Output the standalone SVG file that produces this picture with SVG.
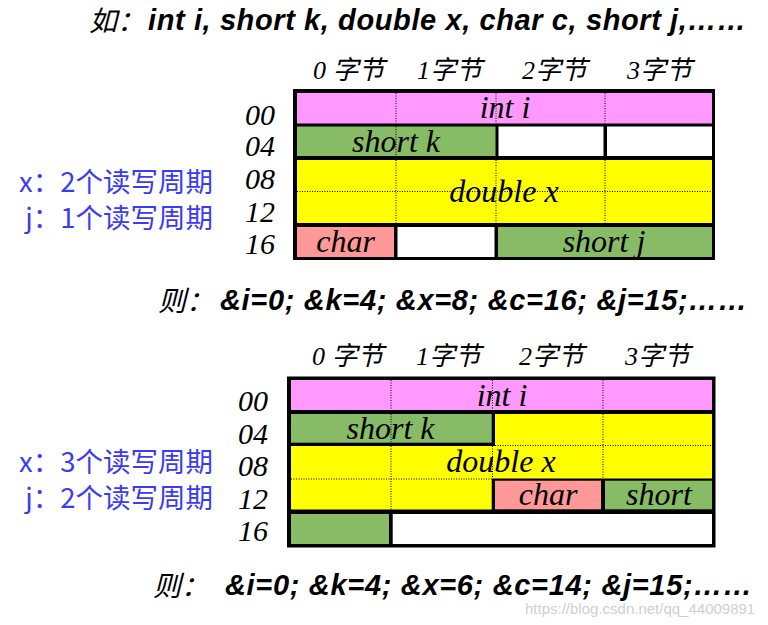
<svg xmlns="http://www.w3.org/2000/svg" width="768" height="625" viewBox="0 0 768 625">
<style>
.bg{fill:#000}
.pink{fill:#FF99FF}
.green{fill:#88BB66}
.yellow{fill:#FFFF00}
.salmon{fill:#FF9999}
.white{fill:#FFFFFF}
.dot{stroke:#000;stroke-width:1;stroke-dasharray:1 1.5;fill:none}
.cell{font-family:"Liberation Serif","Noto Sans CJK SC",serif;font-style:italic;font-size:32px;fill:#000;text-anchor:middle}
.row{font-family:"Liberation Serif",serif;font-style:italic;font-size:30px;fill:#000}
.hdr{font-family:"Liberation Serif","Noto Sans CJK SC",serif;font-style:italic;font-size:26px;fill:#000}
.blue{font-family:"Noto Sans CJK SC","Noto Sans",sans-serif;font-size:27.5px;fill:#3b3bf5;text-anchor:end}
.big{font-family:"Liberation Sans",Arial,sans-serif;font-weight:bold;font-style:italic;font-size:29px;fill:#000}
.cjk{font-family:"Noto Sans CJK SC",sans-serif;font-style:italic;font-size:28px;fill:#000}
.wm{font-family:"Liberation Sans",Arial,sans-serif;font-size:15px;fill:#d0d0d0}
</style>
<rect width="768" height="625" fill="#fff"/>

<g id="title">
<text class="cjk" x="89" y="31">如：</text>
<text class="big" x="148" y="30" textLength="598" lengthAdjust="spacing">int i, short k, double x, char c, short j,……</text>
</g>

<!-- Diagram 1 -->
<g id="diagram1">
<g id="d1-headers">
<text class="hdr" x="313" y="79">0 字节</text>
<text class="hdr" x="417" y="79">1字节</text>
<text class="hdr" x="522" y="79">2字节</text>
<text class="hdr" x="627" y="79">3字节</text>
</g>
<g id="d1-rows">
<text class="row" x="245" y="125">00</text>
<text class="row" x="245" y="156">04</text>
<text class="row" x="245" y="189">08</text>
<text class="row" x="245" y="222">12</text>
<text class="row" x="245" y="254">16</text>
</g>
<rect id="d1-frame" class="bg" x="293" y="89" width="422" height="171"/>
<g id="d1-int-i">
<rect class="pink" x="297" y="93" width="415" height="30.5"/>
<line class="dot" x1="396" y1="93" x2="396" y2="123.5"/>
<line class="dot" x1="496" y1="93" x2="496" y2="123.5"/>
<line class="dot" x1="605" y1="93" x2="605" y2="123.5"/>
<text class="cell" x="505" y="118">int i</text>
</g>
<g id="d1-short-k">
<rect class="green" x="297" y="126.5" width="198.5" height="29.5"/>
<line class="dot" x1="396" y1="126.5" x2="396" y2="156"/>
<text class="cell" x="396" y="152">short k</text>
</g>
<rect id="d1-pad1" class="white" x="498.5" y="126.5" width="105" height="29.5"/>
<rect id="d1-pad2" class="white" x="607" y="126.5" width="105" height="29.5"/>
<g id="d1-double-x">
<rect class="yellow" x="297" y="160" width="415" height="63"/>
<line class="dot" x1="396" y1="160" x2="396" y2="223"/>
<line class="dot" x1="496" y1="160" x2="496" y2="223"/>
<line class="dot" x1="605" y1="160" x2="605" y2="223"/>
<line class="dot" x1="297" y1="191.5" x2="712" y2="191.5"/>
<text class="cell" x="504" y="202">double x</text>
</g>
<g id="d1-char">
<rect class="salmon" x="297" y="227" width="97" height="30"/>
<text class="cell" x="345.5" y="252">char</text>
</g>
<rect id="d1-pad3" class="white" x="397.5" y="227" width="97" height="30"/>
<g id="d1-short-j">
<rect class="green" x="498" y="227" width="214" height="30"/>
<text class="cell" x="604" y="252">short j</text>
</g>
<g id="d1-notes">
<text class="blue" x="213" y="192">x：2个读写周期</text>
<text class="blue" x="213" y="228">j：1个读写周期</text>
</g>
</g>

<g id="result1">
<text class="cjk" x="158" y="311">则：</text>
<text class="big" x="220" y="310" textLength="527" lengthAdjust="spacing">&amp;i=0; &amp;k=4; &amp;x=8; &amp;c=16; &amp;j=15;……</text>
</g>

<!-- Diagram 2 -->
<g id="diagram2">
<g id="d2-headers">
<text class="hdr" x="312" y="365">0 字节</text>
<text class="hdr" x="416" y="365">1字节</text>
<text class="hdr" x="519" y="365">2字节</text>
<text class="hdr" x="625" y="365">3字节</text>
</g>
<g id="d2-rows">
<text class="row" x="238" y="411">00</text>
<text class="row" x="238" y="444">04</text>
<text class="row" x="238" y="476">08</text>
<text class="row" x="238" y="509">12</text>
<text class="row" x="238" y="541">16</text>
</g>
<rect id="d2-frame" class="bg" x="287" y="376.5" width="428.5" height="171"/>
<g id="d2-int-i">
<rect class="pink" x="291" y="380" width="421" height="30"/>
<line class="dot" x1="391" y1="380" x2="391" y2="410"/>
<line class="dot" x1="492.5" y1="380" x2="492.5" y2="410"/>
<line class="dot" x1="603" y1="380" x2="603" y2="410"/>
<text class="cell" x="502" y="406">int i</text>
</g>
<g id="d2-short-k">
<rect class="green" x="291" y="414" width="200.7" height="28.7"/>
<line class="dot" x1="391" y1="414" x2="391" y2="442.7"/>
<text class="cell" x="390.5" y="439">short k</text>
</g>
<g id="d2-double-x">
<polygon class="yellow" points="495,414 712,414 712,478.5 491.7,478.5 491.7,509.5 291,509.5 291,446 495,446"/>
<line class="dot" x1="603" y1="414" x2="603" y2="478.5"/>
<line class="dot" x1="495" y1="445.5" x2="712" y2="445.5"/>
<line class="dot" x1="391" y1="446" x2="391" y2="509.5"/>
<line class="dot" x1="492.5" y1="446" x2="492.5" y2="478.5"/>
<line class="dot" x1="291" y1="479" x2="491.7" y2="479"/>
<text class="cell" x="501" y="472">double x</text>
</g>
<g id="d2-char">
<rect class="salmon" x="495" y="480.7" width="106" height="28.6"/>
<text class="cell" x="548" y="505">char</text>
</g>
<g id="d2-short-j">
<rect class="green" x="605" y="480.7" width="107" height="28.6"/>
<text class="cell" x="659" y="505">short</text>
</g>
<g id="d2-short-j-rest">
<rect class="green" x="291" y="514" width="98" height="30"/>
</g>
<rect id="d2-pad" class="white" x="392.7" y="514" width="319.3" height="30"/>
<g id="d2-notes">
<text class="blue" x="213" y="472">x：3个读写周期</text>
<text class="blue" x="213" y="508">j：2个读写周期</text>
</g>
</g>

<g id="result2">
<text class="cjk" x="153" y="596">则：</text>
<text class="big" x="225" y="595" textLength="527" lengthAdjust="spacing">&amp;i=0; &amp;k=4; &amp;x=6; &amp;c=14; &amp;j=15;……</text>
</g>

<text class="wm" x="525" y="614">https://blog.csdn.net/qq_44009891</text>
</svg>
